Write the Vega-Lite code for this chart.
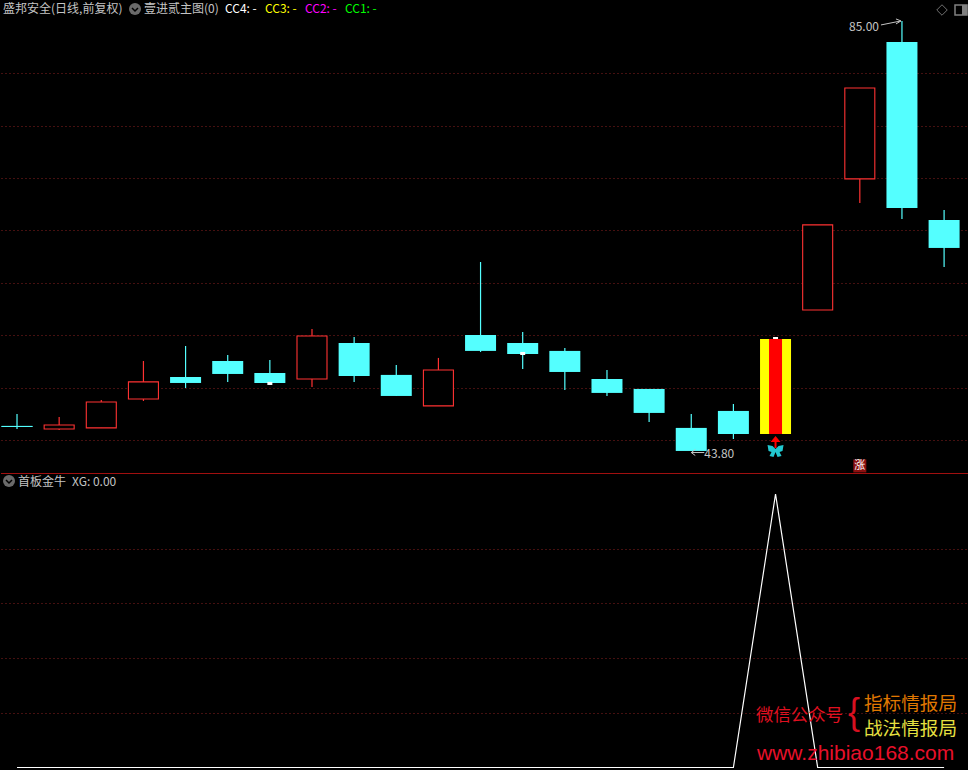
{
"$schema":"https://vega.github.io/schema/vega-lite/v6.json",
"background":"#000000","padding":0,"spacing":0,
"data":{"values":[{}]},
"config":{"view":{"stroke":null},"text":{"font":"Noto Sans CJK SC","fontSize":12,"align":"left","baseline":"middle","color":"#c4c4c4"},
"axisY":{"grid":true,"gridColor":"#8a2020","gridDash":[1,3],"ticks":false,"labels":false,"domain":false,"minExtent":0,"maxExtent":0}},
"datasets":{
"candles":[
{"i":0,"open":46.29,"close":46.29,"high":47.48,"low":46.05,"kind":"down"},
{"i":1,"open":46.05,"close":46.43,"high":47.2,"low":45.95,"kind":"up"},
{"i":2,"open":46.15,"close":48.63,"high":48.82,"low":46.15,"kind":"up"},
{"i":3,"open":48.91,"close":50.54,"high":52.54,"low":48.72,"kind":"up"},
{"i":4,"open":51.01,"close":50.44,"high":53.97,"low":49.96,"kind":"down"},
{"i":5,"open":52.54,"close":51.3,"high":53.11,"low":50.54,"kind":"down"},
{"i":6,"open":51.4,"close":50.44,"high":52.64,"low":50.25,"kind":"down"},
{"i":7,"open":50.82,"close":54.93,"high":55.6,"low":50.06,"kind":"up"},
{"i":8,"open":54.26,"close":51.11,"high":54.83,"low":50.54,"kind":"down"},
{"i":9,"open":51.21,"close":49.2,"high":52.16,"low":49.2,"kind":"down"},
{"i":10,"open":48.25,"close":51.68,"high":52.83,"low":48.25,"kind":"up"},
{"i":11,"open":55.02,"close":53.5,"high":61.99,"low":53.4,"kind":"down"},
{"i":12,"open":54.26,"close":53.21,"high":55.31,"low":51.78,"kind":"down"},
{"i":13,"open":53.5,"close":51.49,"high":53.78,"low":49.77,"kind":"down"},
{"i":14,"open":50.82,"close":49.49,"high":51.68,"low":49.2,"kind":"down"},
{"i":15,"open":49.87,"close":47.58,"high":49.87,"low":46.72,"kind":"down"},
{"i":16,"open":46.15,"close":43.95,"high":47.48,"low":43.95,"kind":"down"},
{"i":17,"open":47.77,"close":45.57,"high":48.44,"low":45.1,"kind":"down"},
{"i":18,"open":45.57,"close":54.64,"high":54.64,"low":45.57,"kind":"limit"},
{"i":19,"open":57.41,"close":65.53,"high":65.53,"low":57.41,"kind":"up"},
{"i":20,"open":69.92,"close":78.6,"high":78.6,"low":67.63,"kind":"up"},
{"i":21,"open":83.0,"close":67.15,"high":85.0,"low":66.1,"kind":"down"},
{"i":22,"open":66.0,"close":63.33,"high":66.96,"low":61.52,"kind":"down"}
],
"ticks":[
{"i":6,"top":50.54,"bottom":50.25},
{"i":12,"top":53.4,"bottom":53.11},
{"i":18,"top":54.83,"bottom":54.64}
],
"xg":[
{"i":0,"xg":0},{"i":1,"xg":0},{"i":2,"xg":0},{"i":3,"xg":0},{"i":4,"xg":0},{"i":5,"xg":0},{"i":6,"xg":0},{"i":7,"xg":0},{"i":8,"xg":0},{"i":9,"xg":0},{"i":10,"xg":0},{"i":11,"xg":0},{"i":12,"xg":0},{"i":13,"xg":0},{"i":14,"xg":0},{"i":15,"xg":0},{"i":16,"xg":0},{"i":17,"xg":0},{"i":18,"xg":1},{"i":19,"xg":0},{"i":20,"xg":0},{"i":21,"xg":0},{"i":22,"xg":0}
]
},
"vconcat":[
{"width":968,"height":474,
"layer":[
{"data":{"name":"candles"},"mark":{"type":"rule","strokeWidth":1.2},
 "encoding":{
  "x":{"field":"i","type":"quantitative","axis":null,"scale":{"domain":[-0.38,22.591],"nice":false,"zero":false,"padding":0}},
  "y":{"field":"high","type":"quantitative","title":null,"scale":{"domain":[41.75,87.0],"nice":false,"zero":false},
       "axis":{"values":[45,50,55,60,65,70,75,80],"title":null}},
  "y2":{"field":"low"},
  "color":{"field":"kind","type":"nominal","legend":null,"scale":{"domain":["up","down","limit"],"range":["#ff3232","#54ffff","#ffff00"]}}
 }},
{"data":{"name":"candles"},"transform":[{"filter":"datum.kind==='down' && datum.open!==datum.close"}],
 "mark":{"type":"bar","size":31,"fill":"#54ffff"},
 "encoding":{"x":{"field":"i","type":"quantitative","axis":null},"y":{"field":"open","type":"quantitative","title":null},"y2":{"field":"close"}}},
{"data":{"name":"candles"},"transform":[{"filter":"datum.kind==='down' && datum.open===datum.close"}],
 "mark":{"type":"bar","size":31,"fill":"#54ffff","stroke":"#54ffff","strokeWidth":1},
 "encoding":{"x":{"field":"i","type":"quantitative","axis":null},"y":{"field":"open","type":"quantitative","title":null},"y2":{"field":"close"}}},
{"data":{"name":"candles"},"transform":[{"filter":"datum.kind==='up'"}],
 "mark":{"type":"bar","size":30,"fill":"#000000","stroke":"#ff3232","strokeWidth":1.1},
 "encoding":{"x":{"field":"i","type":"quantitative","axis":null},"y":{"field":"open","type":"quantitative","title":null},"y2":{"field":"close"}}},
{"data":{"name":"candles"},"transform":[{"filter":"datum.kind==='limit'"}],
 "mark":{"type":"bar","size":31,"fill":"#ffff00"},
 "encoding":{"x":{"field":"i","type":"quantitative","axis":null},"y":{"field":"open","type":"quantitative","title":null},"y2":{"field":"close"}}},
{"data":{"name":"candles"},"transform":[{"filter":"datum.kind==='limit'"}],
 "mark":{"type":"bar","size":13,"fill":"#ff0000"},
 "encoding":{"x":{"field":"i","type":"quantitative","axis":null},"y":{"field":"open","type":"quantitative","title":null},"y2":{"field":"close"}}},
{"data":{"name":"ticks"},
 "mark":{"type":"bar","size":5,"fill":"#ffffff"},
 "encoding":{"x":{"field":"i","type":"quantitative","axis":null},"y":{"field":"top","type":"quantitative","title":null},"y2":{"field":"bottom"}}},
{"mark":{"type":"rule","stroke":"#a00f0f","strokeWidth":1},"encoding":{"y":{"value":473.5}}},
{"mark":{"type":"text","text":"85.00","align":"right","dx":-23,"dy":6},"encoding":{"x":{"datum":21,"type":"quantitative","axis":null},"y":{"datum":85,"type":"quantitative","title":null}}},
{"mark":{"type":"point","shape":"M-21 4 L-1 0 M-6 -2 L-1 0 L-6 3","size":4,"filled":false,"stroke":"#c4c4c4","strokeWidth":1,"opacity":1},"encoding":{"x":{"datum":21,"type":"quantitative","axis":null},"y":{"datum":85,"type":"quantitative","title":null}}},
{"mark":{"type":"text","text":"43.80","dx":13,"dy":1},"encoding":{"x":{"datum":16,"type":"quantitative","axis":null},"y":{"datum":43.8,"type":"quantitative","title":null}}},
{"mark":{"type":"point","shape":"M0 0 L13 0 M0 0 L4 -3 M0 0 L4 3","size":4,"filled":false,"stroke":"#c4c4c4","strokeWidth":1,"opacity":1},"encoding":{"x":{"datum":16,"type":"quantitative","axis":null},"y":{"datum":43.8,"type":"quantitative","title":null}}},
{"mark":{"type":"point","shape":"M0 2 L5 8 L1 8 L1 14 L-1 14 L-1 8 L-5 8 Z","size":4,"filled":true,"fill":"#ff0000","stroke":null,"opacity":1},"encoding":{"x":{"datum":18,"type":"quantitative","axis":null},"y":{"datum":45.57,"type":"quantitative","title":null}}},
{"mark":{"type":"point","shape":"M0 15 L-3 12 L-8 11 L-7 17 L-4 18 L-6 22 L-2 23 L0 18 L2 23 L6 22 L4 18 L7 17 L8 11 L3 12 Z","size":4,"filled":true,"fill":"#22c8d0","stroke":null,"opacity":1},"encoding":{"x":{"datum":18,"type":"quantitative","axis":null},"y":{"datum":45.57,"type":"quantitative","title":null}}},
{"mark":{"type":"point","shape":"square","size":169,"filled":true,"fill":"#8b1010","stroke":null,"opacity":1},"encoding":{"x":{"datum":20,"type":"quantitative","axis":null},"y":{"datum":42.52,"type":"quantitative","title":null}}},
{"mark":{"type":"text","text":"涨","align":"center","color":"#ffffff","fontSize":11},"encoding":{"x":{"datum":20,"type":"quantitative","axis":null},"y":{"datum":42.52,"type":"quantitative","title":null}}},
{"mark":{"type":"text","text":"盛邦安全(日线,前复权)","x":2,"y":9}},
{"mark":{"type":"point","shape":"circle","size":144,"filled":true,"fill":"#6a6a6a","stroke":null,"opacity":1},"encoding":{"x":{"value":134},"y":{"value":9}}},
{"mark":{"type":"point","shape":"M-3 -1 L0 2 L3 -1","size":4,"filled":false,"stroke":"#000000","strokeWidth":1.5,"opacity":1},"encoding":{"x":{"value":134},"y":{"value":9}}},
{"mark":{"type":"text","text":"壹进贰主图(0)","x":143,"y":9}},
{"mark":{"type":"text","text":"CC4: -","x":224,"y":9,"color":"#ffffff"}},
{"mark":{"type":"text","text":"CC3: -","x":264,"y":9,"color":"#ffff00"}},
{"mark":{"type":"text","text":"CC2: -","x":304,"y":9,"color":"#ff00ff"}},
{"mark":{"type":"text","text":"CC1: -","x":344,"y":9,"color":"#00ff00"}},
{"mark":{"type":"point","shape":"diamond","size":110,"filled":false,"stroke":"#707070","strokeWidth":1,"opacity":1},"encoding":{"x":{"value":941},"y":{"value":10}}},
{"mark":{"type":"point","shape":"M-6 -5 H6 V5 H-6 Z","size":4,"filled":false,"stroke":"#808080","strokeWidth":1.5,"opacity":1},"encoding":{"x":{"value":960},"y":{"value":10}}},
{"mark":{"type":"point","shape":"M1 -5 H6 V5 H1 Z","size":4,"filled":true,"fill":"#808080","stroke":null,"opacity":1},"encoding":{"x":{"value":960},"y":{"value":10}}}
]},
{"width":968,"height":296,
"layer":[
{"data":{"name":"xg"},"mark":{"type":"line","stroke":"#ffffff","strokeWidth":1.2},
 "encoding":{
  "x":{"field":"i","type":"quantitative","axis":null,"scale":{"domain":[-0.38,22.591],"nice":false,"zero":false}},
  "y":{"field":"xg","type":"quantitative","scale":{"domain":[-0.0091,1.073],"nice":false,"zero":false},
       "axis":{"values":[0.2,0.4,0.6,0.8],"title":null}}
 }},
{"mark":{"type":"point","shape":"circle","size":144,"filled":true,"fill":"#6a6a6a","stroke":null,"opacity":1},"encoding":{"x":{"value":8},"y":{"value":7}}},
{"mark":{"type":"point","shape":"M-3 -1 L0 2 L3 -1","size":4,"filled":false,"stroke":"#000000","strokeWidth":1.5,"opacity":1},"encoding":{"x":{"value":8},"y":{"value":7}}},
{"mark":{"type":"text","text":"首板金牛","x":17,"y":8}},
{"mark":{"type":"text","text":"XG: 0.00","x":71,"y":8}},
{"mark":{"type":"text","text":"微信公众号","x":755,"y":242,"fontSize":17.4,"color":"#e01020"}},
{"mark":{"type":"text","text":"{","x":847,"y":239,"fontSize":36,"font":"Liberation Sans","fontWeight":"normal","color":"#d81020"}},
{"mark":{"type":"text","text":"指标情报局","x":863,"y":230,"fontSize":18.6,"color":"#e07800"}},
{"mark":{"type":"text","text":"战法情报局","x":863,"y":255,"fontSize":18.6,"color":"#e6e040"}},
{"mark":{"type":"text","text":"www.zhibiao168.com","x":756,"y":280,"fontSize":21,"font":"Liberation Sans","color":"#e8102a"}}
]}
]}
